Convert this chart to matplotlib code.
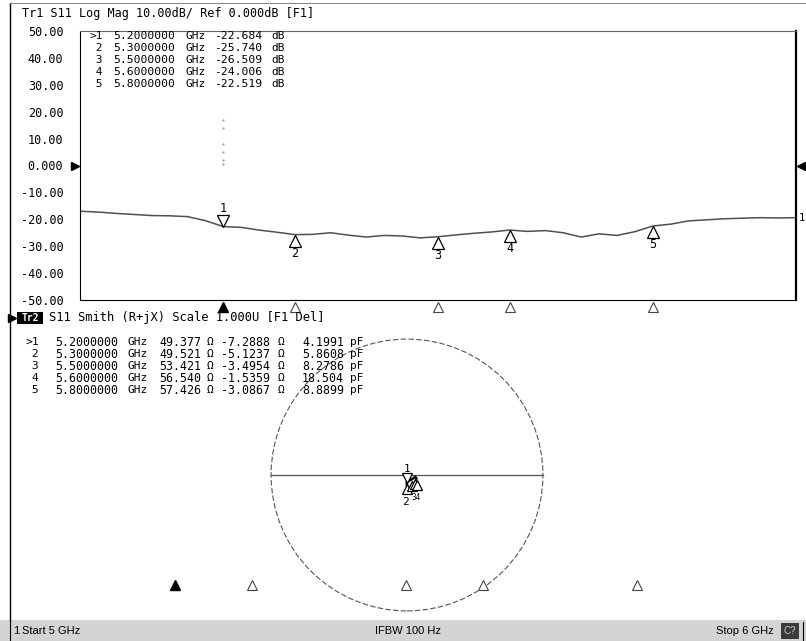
import matplotlib
matplotlib.use('agg')
import matplotlib.pyplot as plt
import matplotlib.transforms as mtransforms
from matplotlib.patches import Rectangle, Circle
import numpy as np

W, H = 806, 641
MONO = 'DejaVu Sans Mono'
NARROW = ['Liberation Sans Narrow', 'Liberation Sans', 'DejaVu Sans']

# S11 log mag trace
freq_ghz = [5.000, 5.025, 5.050, 5.075, 5.100, 5.125, 5.150, 5.175, 5.200, 5.225,
            5.250, 5.275, 5.300, 5.325, 5.350, 5.375, 5.400, 5.425, 5.450, 5.475,
            5.500, 5.525, 5.550, 5.575, 5.600, 5.625, 5.650, 5.675, 5.700, 5.725,
            5.750, 5.775, 5.800, 5.825, 5.850, 5.875, 5.900, 5.925, 5.950, 5.975, 6.000]
s11_db = [-17.0, -17.3, -17.8, -18.2, -18.6, -18.7, -19.0, -20.5, -22.7, -23.0,
          -24.0, -24.8, -25.7, -25.6, -25.0, -25.9, -26.6, -26.0, -26.2, -26.9,
          -26.5, -25.8, -25.2, -24.7, -24.0, -24.5, -24.2, -25.0, -26.6, -25.4,
          -26.0, -24.6, -22.5, -21.8, -20.6, -20.2, -19.8, -19.6, -19.4, -19.5, -19.4]

# markers
mk_id = ['1', '2', '3', '4', '5']
mk_freq = [5.2, 5.3, 5.5, 5.6, 5.8]
mk_db = [-22.684, -25.740, -26.509, -24.006, -22.519]
mk_r = [49.377, 49.521, 53.421, 56.540, 57.426]
mk_x = [-7.2888, -5.1237, -3.4954, -1.5359, -3.0867]
mk_c = ['4.1991', '5.8608', '8.2786', '18.504', '8.8899']

y_ticks = [50, 40, 30, 20, 10, 0, -10, -20, -30, -40, -50]
y_ticklabels = ['50.00', '40.00', '30.00', '20.00', '10.00', '0.000',
                '-10.00', '-20.00', '-30.00', '-40.00', '-50.00']


def fa(x0, y0, w, h):
    # pixel box (top-left origin) -> figure fraction
    return [x0 / W, 1 - (y0 + h) / H, w / W, h / H]


fig = plt.figure(figsize=(W / 100, H / 100), dpi=100)

# overlay in screen pixels, drawn above the plot axes
ov = fig.add_axes([0, 0, 1, 1])
ov.set_xlim(0, W)
ov.set_ylim(H, 0)
ov.axis('off')
ov.set_zorder(10)

ov.plot([10, 10], [3, 620], color='k', lw=1.0)
ov.plot([10, W], [3, 3], color='#888888', lw=0.8)

ov.text(22, 14, 'Tr1 S11 Log Mag 10.00dB/ Ref 0.000dB [F1]', family=MONO,
        fontsize=8.5, va='center', ha='left')

# ---- upper: log mag ----
ax = fig.add_axes(fa(80, 31, 716, 269))
ax.plot(freq_ghz, s11_db, color='#505050', lw=1.1)
ax.set_xlim(5, 6)
ax.set_ylim(-50, 50)
ax.set_xticks([])
ax.set_yticks(y_ticks, y_ticklabels)
ax.tick_params(axis='y', length=0, pad=12, labelsize=8.5)
for t in ax.get_yticklabels():
    t.set_family(MONO)
for s in ['left', 'bottom', 'top']:
    ax.spines[s].set_linewidth(0.8)
ax.spines['top'].set_color('#666666')
ax.spines['right'].set_linewidth(1.6)

# marker readout (screen columns)
top_rows = [36, 48, 60, 72, 84]
for i in range(5):
    pre = '>' if i == 0 else ' '
    ov.text(89, top_rows[i], '%s%s' % (pre, mk_id[i]), family=MONO, fontsize=8,
            va='center')
    ov.text(113, top_rows[i], '%.7f' % mk_freq[i], family=MONO, fontsize=8.2,
            va='center')
    ov.text(186, top_rows[i], 'GHz', family=MONO, fontsize=8, va='center')
    ov.text(262, top_rows[i], '%.3f' % mk_db[i], family=MONO, fontsize=8.2,
            va='center', ha='right')
    ov.text(271, top_rows[i], 'dB', family=MONO, fontsize=8, va='center')

# faint marker line above marker 1
ax.plot([mk_freq[0]] * 6, [17, 14, 8, 5, 2, 0.5], ls='none', marker='.',
        ms=1.5, color='#aaaaaa')

# markers on trace
ax.plot(mk_freq[0], mk_db[0] + 2.2, marker='v', ms=8, mfc='white', mec='k', mew=0.9)
ax.text(mk_freq[0], mk_db[0] + 6.6, mk_id[0], ha='center', va='center',
        family=MONO, fontsize=8.5)
for i in range(1, 5):
    ax.plot(mk_freq[i], mk_db[i] - 2.2, marker='^', ms=8, mfc='white', mec='k', mew=0.9)
    ax.text(mk_freq[i], mk_db[i] - 6.8, mk_id[i], ha='center', va='center',
            family=MONO, fontsize=8.5)
ax.text(1.004, s11_db[-1], '1', transform=mtransforms.blended_transform_factory(
    ax.transAxes, ax.transData), va='center', ha='left', family=MONO, fontsize=7.5,
    clip_on=False)

# reference arrows
tr_ref = mtransforms.blended_transform_factory(ax.transAxes, ax.transData)
ax.plot(-0.007, 0, marker='>', ms=6, color='k', transform=tr_ref, clip_on=False)
ax.plot(1.007, 0, marker='<', ms=6, color='k', transform=tr_ref, clip_on=False)

# marker position indicators below the axis
tr_pos = mtransforms.blended_transform_factory(ax.transData, ax.transAxes)
ax.plot(mk_freq[0], -0.026, marker='^', ms=7, color='k', transform=tr_pos, clip_on=False)
ax.plot(mk_freq[1:], [-0.026] * 4, ls='none', marker='^', ms=7, mfc='white',
        mec='#444444', mew=0.8, transform=tr_pos, clip_on=False)

# ---- lower: smith ----
ov.plot(12, 318, marker='>', ms=6, color='k')
ov.add_patch(Rectangle((17, 312), 26, 12, fc='k', ec='none'))
ov.text(30, 318, 'Tr2', color='white', family=MONO, fontsize=7, ha='center',
        va='center', fontweight='bold')
ov.text(49, 318, 'S11 Smith (R+jX) Scale 1.000U [F1 Del]', family=MONO,
        fontsize=8.7, va='center', ha='left')

row_y = [342, 354, 366, 378, 390]
for i in range(5):
    pre = '>' if i == 0 else ' '
    ov.text(25, row_y[i], '%s%s' % (pre, mk_id[i]), family=MONO, fontsize=8.2, va='center')
    ov.text(55, row_y[i], '%.7f' % mk_freq[i], family=MONO, fontsize=8.4, va='center')
    ov.text(128, row_y[i], 'GHz', family=MONO, fontsize=8, va='center')
    ov.text(201, row_y[i], '%.3f' % mk_r[i], family=MONO, fontsize=8.4,
            va='center', ha='right')
    ov.text(207, row_y[i], '\u03a9', family=MONO, fontsize=8, va='center')
    ov.text(270, row_y[i], '%.4f' % mk_x[i], family=MONO, fontsize=8.4,
            va='center', ha='right')
    ov.text(278, row_y[i], '\u03a9', family=MONO, fontsize=8, va='center')
    ov.text(344, row_y[i], mk_c[i], family=MONO, fontsize=8.4, va='center', ha='right')
    ov.text(350, row_y[i], 'pF', family=MONO, fontsize=8, va='center')

sx = fig.add_axes(fa(407 - 140, 475 - 140, 280, 280))
sx.set_xlim(-1.03, 1.03)
sx.set_ylim(-1.03, 1.03)
sx.axis('off')
sx.add_patch(Circle((0, 0), 1, fill=False, ec='#555555', lw=0.8, ls=(0, (5, 2))))
sx.plot([-1, 1], [0, 0], color='#555555', lw=0.9)

z = (np.array(mk_r) + 1j * np.array(mk_x)) / 50.0
g = (z - 1) / (z + 1)
sx.plot(g.real, g.imag, color='k', lw=1.8)
sx.plot(g.real[0], g.imag[0] + 0.05, marker='v', ms=7, mfc='white', mec='k', mew=0.9)
sx.text(g.real[0], g.imag[0] + 0.12, mk_id[0], ha='center', va='center',
        family=MONO, fontsize=8)
for i in range(1, 5):
    sx.plot(g.real[i], g.imag[i] - 0.05, marker='^', ms=7, mfc='white', mec='k', mew=0.9)
sx.text(g.real[1] - 0.01, g.imag[1] - 0.15, mk_id[1], ha='center', va='center',
        family=MONO, fontsize=8)
sx.text(g.real[2] + 0.03, g.imag[2] - 0.13, '34', ha='center', va='center',
        family=MONO, fontsize=5.5)

# marker position indicators at the bottom
ix = fig.add_axes(fa(21, 578, 770, 14))
ix.set_xlim(5, 6)
ix.set_ylim(0, 1)
ix.axis('off')
ix.plot(mk_freq[0], 0.5, marker='^', ms=7, color='k')
ix.plot(mk_freq[1:], [0.5] * 4, ls='none', marker='^', ms=7, mfc='white',
        mec='#444444', mew=0.8)

# ---- status bar ----
ov.add_patch(Rectangle((0, 620), W, 21, fc='#d4d4d4', ec='none'))
ov.plot([10, 10], [620, 641], color='k', lw=0.8)
ov.text(13, 631, '1', family=NARROW, fontsize=8, va='center')
ov.text(22, 631, 'Start 5 GHz', family=NARROW, fontsize=8, va='center')
ov.text(375, 631, 'IFBW 100 Hz', family=NARROW, fontsize=8, va='center')
ov.text(716, 631, 'Stop 6 GHz', family=NARROW, fontsize=8, va='center')
ov.add_patch(Rectangle((781, 623), 18, 16, fc='#3a3a3a', ec='none'))
ov.text(790, 631, 'C?', color='#cccccc', family=NARROW, fontsize=7, ha='center',
        va='center')
ov.plot([803, 803], [622, 640], color='k', lw=0.8)

fig.savefig('out.png', dpi=100)
plt.close(fig)
